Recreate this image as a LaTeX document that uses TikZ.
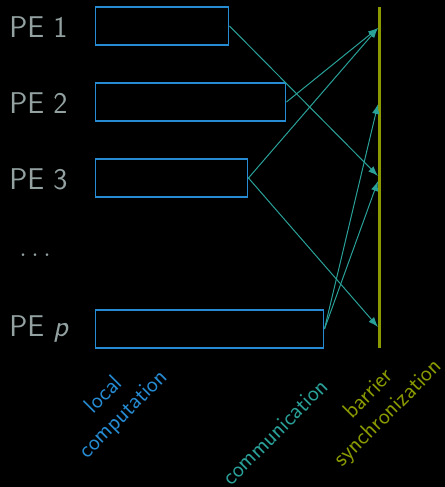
\documentclass[tikz,border=0pt]{standalone}
\usetikzlibrary{arrows.meta}
\definecolor{bgc}{HTML}{000000}
\definecolor{txtgray}{HTML}{93A1A1}
\definecolor{boxblue}{HTML}{268BD2}
\definecolor{arrteal}{HTML}{2AA198}
\definecolor{barolive}{HTML}{8A9A00}
\tikzset{
  pebox/.style={draw=boxblue, line width=1.1pt, minimum height=28.5pt, inner sep=0pt, anchor=west},
  pelabel/.style={text=txtgray, font=\sffamily\fontsize{22.5}{26}\selectfont, anchor=west, inner sep=0pt},
  msg/.style={draw=arrteal, line width=0.75pt, -{Latex[length=7.5pt,width=5.5pt]}},
  rotlabel/.style={font=\sffamily\fontsize{17.5}{20.5}\selectfont, rotate=45, align=center, inner sep=0pt}
}
\begin{document}
\begin{tikzpicture}[x=0.75pt,y=-0.75pt]
\fill[bgc] (0,0) rectangle (445,487);
\useasboundingbox (0,0) rectangle (445,487);
% labels
\node[pelabel] (l1) at (9,27) {PE 1};
\node[pelabel] (l2) at (9,103) {PE 2};
\node[pelabel] (l3) at (9,179) {PE 3};
\node[pelabel] (lp) at (9,329) {PE \textsl{p}};
\node[text=txtgray, font=\sffamily\fontsize{22.5}{26}\selectfont, inner sep=0pt, anchor=base west] (dots) at (19,256) {$\ldots$};
% boxes
\node[pebox, minimum width=99.75pt] (b1) at (95,26) {};
\node[pebox, minimum width=142.5pt] (b2) at (95,102) {};
\node[pebox, minimum width=114pt] (b3) at (95,178) {};
\node[pebox, minimum width=171pt] (bp) at (95,329) {};
% barrier
\coordinate (bt) at (379.5,7);
\coordinate (bb) at (379.5,348);
\draw[barolive, line width=2pt] (bt) -- (bb);
\coordinate (t1) at (378,28);
\coordinate (t2) at (378,104);
\coordinate (t3a) at (378,176);
\coordinate (t3b) at (378,181);
\coordinate (tp) at (378,327);
% messages
\draw[msg] (b1.east) -- (t3a);
\draw[msg] (b2.east) -- (t1);
\draw[msg] (b3.east) -- (t1);
\draw[msg] (b3.east) -- (tp);
\draw[msg] (bp.east) -- (t2);
\draw[msg] (bp.east) -- (t3b);
% phase labels
\node[rotlabel, text=boxblue] (lc) at (114,405) {local\\computation};
\node[rotlabel, text=arrteal] (cm) at (275,432) {communication};
\node[rotlabel, text=barolive] (bs) at (379,404) {barrier\\synchronization};
\end{tikzpicture}
\end{document}
